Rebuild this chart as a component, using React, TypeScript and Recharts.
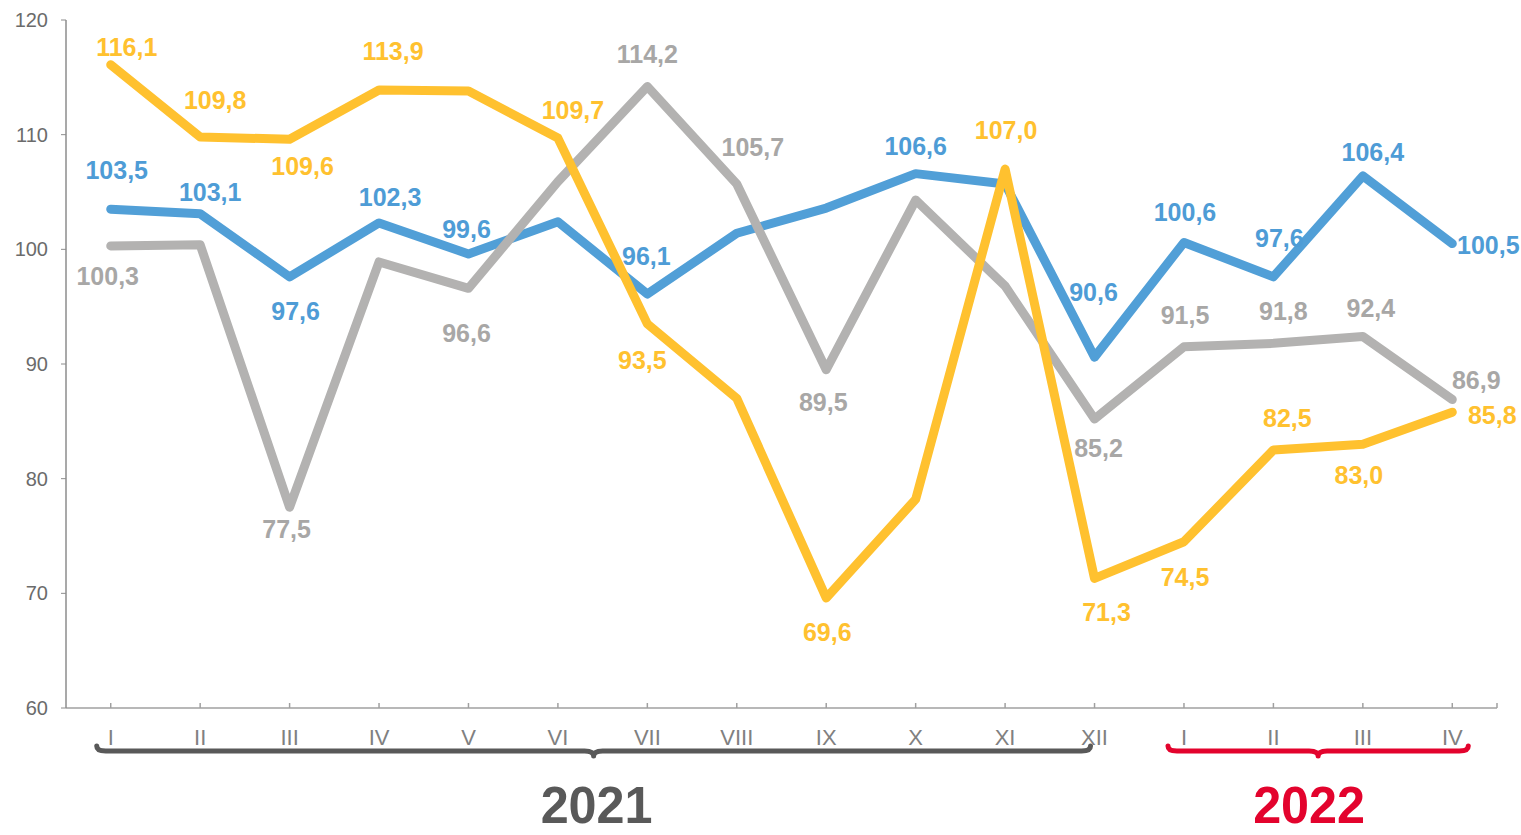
import { LineChart, Line, XAxis, YAxis } from "recharts";

const MONTHS = ["I", "II", "III", "IV", "V", "VI", "VII", "VIII", "IX", "X", "XI", "XII", "I", "II", "III", "IV"];

const blueValues = [103.5, 103.1, 97.6, 102.3, 99.6, 102.4, 96.1, 101.4, 103.6, 106.6, 105.7, 90.6, 100.6, 97.6, 106.4, 100.5];
const grayValues = [100.3, 100.4, 77.5, 98.9, 96.6, 105.9, 114.2, 105.7, 89.5, 104.3, 96.8, 85.2, 91.5, 91.8, 92.4, 86.9];
const yellowValues = [116.1, 109.8, 109.6, 113.9, 113.8, 109.7, 93.5, 87.0, 69.6, 78.2, 107.0, 71.3, 74.5, 82.5, 83.0, 85.8];

// which points carry a value label, and where it sits relative to the point [dx, dy]
type Offset = [number, number] | null;
const blueLabelPos: Offset[] = [[6, -39], [10, -22], [6, 34], [11, -26], [-2, -25], null, [-1, -38], null, null, [0, -28], null, [-1, -65], [1, -30], [6, -39], [10, -24], [36, 1]];
const grayLabelPos: Offset[] = [[-3, 30], null, [-3, 22], null, [-2, 45], null, [0, -33], [16, -37], [-3, 32], null, null, [4, 29], [1, -32], [10, -32], [8, -28], [24, -20]];
const yellowLabelPos: Offset[] = [[16, -18], [15, -37], [13, 27], [14, -39], null, [15, -28], [-5, 36], null, [1, 34], null, [1, -39], [12, 34], [1, 35], [14, -32], [-4, 31], [40, 3]];

const YEARS = [
  { label: "2021", first: 0, last: 11, color: "#595959", padL: 14, padR: -4, textDx: 3 },
  { label: "2022", first: 12, last: 15, color: "#E3032D", padL: 16, padR: 16, textDx: -9 },
];

const FONT = "'Liberation Sans', Arial, sans-serif";
const PLOT_LEFT = 66;
const PLOT_RIGHT = 1497;
const STEP = (PLOT_RIGHT - PLOT_LEFT) / MONTHS.length;

const BLUE = "#519FD7";
const GRAY = "#B3B2B1";
const YELLOW = "#FFC12F";

const data = MONTHS.map((m, i) => ({
  key: i,
  month: m,
  blue: blueValues[i],
  gray: grayValues[i],
  yellow: yellowValues[i],
}));

const fmt = (v: number) => v.toFixed(1).replace(".", ",");

function makeLabel(color: string, pos: Offset[]) {
  return (p: any) => {
    const o = pos[p.index];
    if (!o || p.value == null) return <g key={p.index} />;
    return (
      <text
        key={p.index}
        x={p.x + o[0]}
        y={p.y + o[1]}
        textAnchor="middle"
        dominantBaseline="central"
        fill={color}
        fontSize={25}
        fontWeight="bold"
        fontFamily={FONT}
      >
        {fmt(Number(p.value))}
      </text>
    );
  };
}

function bracePath(x1: number, x2: number, y: number) {
  const xm = (x1 + x2) / 2;
  return `M${x1},${y - 5} Q${x1},${y} ${x1 + 9},${y} L${xm - 9},${y} Q${xm},${y} ${xm},${y + 5} Q${xm},${y} ${xm + 9},${y} L${x2 - 9},${y} Q${x2},${y} ${x2},${y - 5}`;
}

function MonthTick(props: any) {
  const { x, y, index } = props;
  const year = YEARS.find((yr) => yr.first === index);
  const isLast = index === MONTHS.length - 1;
  let brace = null;
  if (year) {
    const x1 = x - year.padL;
    const x2 = x + (year.last - year.first) * STEP + year.padR;
    const xm = (x1 + x2) / 2;
    brace = (
      <g>
        <path d={bracePath(x1, x2, y + 43)} fill="none" stroke={year.color} strokeWidth={5} strokeLinecap="round" strokeLinejoin="round" />
        <text
          x={xm + year.textDx}
          y={y + 115}
          textAnchor="middle"
          fill={year.color}
          fontSize={51}
          fontWeight="bold"
          fontFamily={FONT}
          textLength={112}
          lengthAdjust="spacingAndGlyphs"
        >
          {year.label}
        </text>
      </g>
    );
  }
  return (
    <g>
      <line x1={x} x2={x} y1={y - 5} y2={y} stroke="#A0A0A0" strokeWidth={1.5} />
      {isLast && <line x1={x + STEP / 2} x2={x + STEP / 2} y1={y - 5} y2={y} stroke="#A0A0A0" strokeWidth={1.5} />}
      <text x={x} y={y + 29} textAnchor="middle" dominantBaseline="central" fill="#808080" fontSize={22} fontFamily={FONT}>
        {MONTHS[index]}
      </text>
      {brace}
    </g>
  );
}

export default function App() {
  return (
    <div style={{ position: "absolute", left: 0, top: 0, background: "#fff" }}>
      <LineChart width={1521} height={835} data={data} margin={{ top: 20, right: 1521 - PLOT_RIGHT, bottom: 0, left: 0 }}>
        <XAxis
          dataKey="key"
          type="category"
          interval={0}
          height={127}
          padding={{ left: STEP / 2, right: STEP / 2 }}
          axisLine={{ stroke: "#A0A0A0", strokeWidth: 1.5 }}
          tickLine={false}
          tickSize={0}
          tickMargin={0}
          tick={<MonthTick />}
        />
        <YAxis
          width={PLOT_LEFT}
          domain={[60, 120]}
          ticks={[60, 70, 80, 90, 100, 110, 120]}
          allowDataOverflow
          axisLine={{ stroke: "#8C8C8C", strokeWidth: 1.5 }}
          tickLine={{ stroke: "#8C8C8C" }}
          tickSize={5}
          tickMargin={13}
          tick={{ fill: "#6B6B6B", fontSize: 20, fontFamily: FONT }}
        />
        <Line
          dataKey="blue"
          type="linear"
          stroke={BLUE}
          strokeWidth={9}
          strokeLinecap="round"
          strokeLinejoin="round"
          dot={false}
          activeDot={false}
          isAnimationActive={false}
          label={makeLabel("#4E9CD6", blueLabelPos)}
        />
        <Line
          dataKey="gray"
          type="linear"
          stroke={GRAY}
          strokeWidth={9}
          strokeLinecap="round"
          strokeLinejoin="round"
          dot={false}
          activeDot={false}
          isAnimationActive={false}
          label={makeLabel("#A8A7A6", grayLabelPos)}
        />
        <Line
          dataKey="yellow"
          type="linear"
          stroke={YELLOW}
          strokeWidth={9}
          strokeLinecap="round"
          strokeLinejoin="round"
          dot={false}
          activeDot={false}
          isAnimationActive={false}
          label={makeLabel(YELLOW, yellowLabelPos)}
        />
      </LineChart>
    </div>
  );
}
